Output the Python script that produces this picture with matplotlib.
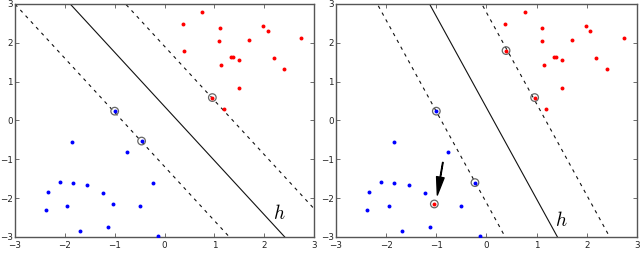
import numpy as np
import matplotlib
matplotlib.use("Agg")
import matplotlib.pyplot as plt

plt.rcParams['mathtext.fontset'] = 'cm'

# class +1 (red)
red_x = [0.76, 0.37, 1.11, 1.98, 2.07, 1.10, 1.70, 2.74, 0.39, 1.34, 1.38,
         1.50, 2.19, 1.14, 2.40, 1.50, 0.96, 1.19]
red_y = [2.79, 2.48, 2.39, 2.43, 2.31, 2.05, 2.06, 2.13, 1.80, 1.64, 1.64,
         1.56, 1.60, 1.43, 1.32, 0.83, 0.59, 0.29]

# class -1 (blue)
blue_x = [-1.00, -0.46, -1.85, -0.76, -2.10, -1.84, -1.55, -0.23, -2.34,
          -1.23, -1.04, -1.95, -0.50, -2.38, -1.69, -1.13, -0.13]
blue_y = [0.24, -0.53, -0.55, -0.80, -1.59, -1.62, -1.67, -1.60, -1.85,
          -1.88, -2.15, -2.19, -2.21, -2.31, -2.85, -2.75, -2.98]

# separating hyperplanes w.x + b = 0 (and +-1 margins)
w_a, b_a = (0.90, 0.646), -0.234
w_b, b_b = (0.96, 0.408), -0.134

# support vectors
sv_a_x = [-1.00, -0.46, 0.96]
sv_a_y = [0.24, -0.53, 0.59]
sv_b_x = [-1.00, -0.23, 0.39, 0.96, -1.04]
sv_b_y = [0.24, -1.60, 1.80, 0.59, -2.15]

# panel (b): one blue point flipped to red, one blue point removed
flip_idx = 10
drop_idx = 1

ticks = [-3, -2, -1, 0, 1, 2, 3]


def draw_lines(ax, w, b):
    xs = np.linspace(-3, 3, 200)
    for off in [0, 1, -1]:
        ys = (off - b - w[0] * xs) / w[1]
        if off == 0:
            ax.plot(xs, ys, color='#111111', lw=0.8)
        else:
            ax.plot(xs, ys, color='#111111', lw=0.8, ls='--', dashes=(3, 4))


def setup(ax):
    ax.set_xlim(-3, 3)
    ax.set_ylim(-3, 3)
    ax.set_xticks(ticks)
    ax.set_yticks(ticks)
    ax.tick_params(direction='in', top=True, right=True, labelsize=6.3,
                   length=3, width=0.6, color='#555555', labelcolor='#222222',
                   pad=3)
    ax.tick_params(axis='y', pad=1.5)
    for s in ax.spines.values():
        s.set_color('#555555')
        s.set_linewidth(1.0)


fig = plt.figure(figsize=(6.4, 2.67), dpi=100)
ax1 = fig.add_axes([0.0235, 0.1124, 0.4671, 0.8727])
ax2 = fig.add_axes([0.525, 0.1124, 0.4703, 0.8727])

# (a)
draw_lines(ax1, w_a, b_a)
ax1.scatter(sv_a_x, sv_a_y, s=30, facecolors='none', edgecolors='#666666', lw=0.9, zorder=3)
ax1.scatter(red_x, red_y, s=8, c='red', lw=0, zorder=4)
ax1.scatter(blue_x, blue_y, s=8, c='blue', lw=0, zorder=4)
ax1.text(2.30, -2.39, '$h$', fontsize=14, ha='center', va='center')
setup(ax1)

# (b)
bx = [v for i, v in enumerate(blue_x) if i not in (flip_idx, drop_idx)]
by = [v for i, v in enumerate(blue_y) if i not in (flip_idx, drop_idx)]
rx = red_x + [blue_x[flip_idx]]
ry = red_y + [blue_y[flip_idx]]
draw_lines(ax2, w_b, b_b)
ax2.scatter(sv_b_x, sv_b_y, s=30, facecolors='none', edgecolors='#666666', lw=0.9, zorder=3)
ax2.scatter(rx, ry, s=8, c='red', lw=0, zorder=4)
ax2.scatter(bx, by, s=8, c='blue', lw=0, zorder=4)
ax2.text(1.50, -2.58, '$h$', fontsize=14, ha='center', va='center')
ax2.annotate('', xy=(-0.98, -1.92), xytext=(-0.87, -1.08),
             arrowprops=dict(facecolor='black', edgecolor='black', width=0.4,
                             headwidth=5.5, headlength=13, shrink=0))
setup(ax2)

fig.savefig('out.png', dpi=100)
